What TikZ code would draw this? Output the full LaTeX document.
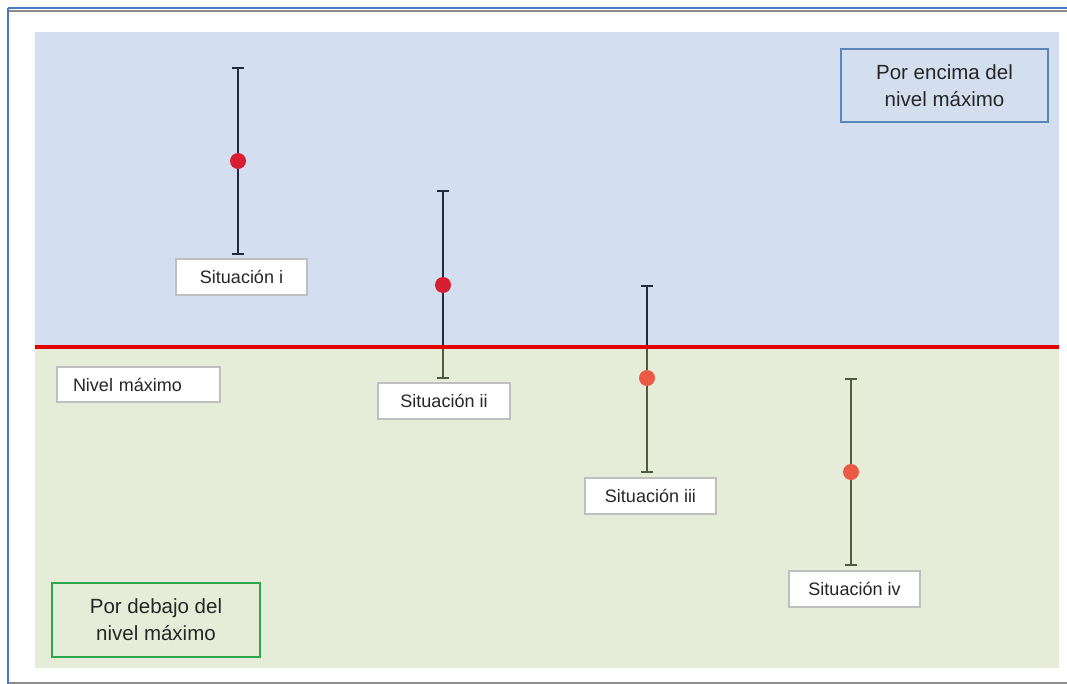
\documentclass[tikz,border=0pt]{standalone}
\usepackage{fontspec}
\setmainfont{Liberation Sans}
\usetikzlibrary{positioning}
\definecolor{skyfill}{HTML}{D3DEEF}
\definecolor{leaffill}{HTML}{E5EDD8}
\definecolor{barnavy}{HTML}{1F2A3E}
\definecolor{barolive}{HTML}{4F5A40}
\definecolor{dotdark}{HTML}{D71F32}
\definecolor{dotlight}{HTML}{EB5A44}
\definecolor{txtgrey}{HTML}{262626}
\definecolor{topline}{HTML}{4A78C8}
\definecolor{skyedge}{HTML}{5A86B8}
\definecolor{leafedge}{HTML}{2EA84E}

\begin{document}
\begin{tikzpicture}[
  x=1pt,y=-1pt,
  font=\fontsize{18}{21}\selectfont,
  tag/.style={draw=black!25,line width=1.2pt,fill=white,text=txtgrey,inner sep=0pt,minimum height=36pt},
  zone/.style={line width=2pt,text=txtgrey,align=center,inner sep=0pt,font=\fontsize{20.5}{27}\selectfont},
  errbar/.style={line width=2.2pt}
]
\useasboundingbox (0,0) rectangle (1067,684);

% ---------------- frame and the two bands
\draw[black!45,line width=1.5pt] (8,11) -- (1067,11);
\draw[black!45,line width=2pt] (8,683) -- (1067,683);
\draw[topline,line width=2pt] (8,8) -- (1067,8);
\draw[topline,line width=2pt] (8,8) -- (8,684);
\fill[skyfill] (35,32) rectangle (1059,347);
\fill[leaffill] (35,347) rectangle (1059,668);

% ---------------- error bars: x / top / bottom / dot / dot colour
\foreach \x/\t/\b/\m/\c in {238/68/254/161/dotdark,443/191/378/285/dotdark,647/286/472/378/dotlight,851/379/565/472/dotlight}{
  \foreach \clipa/\clipb/\col in {0/347/barnavy,347/684/barolive}{
    \begin{scope}
      \clip (0,\clipa) rectangle (1067,\clipb);
      \draw[errbar,\col] (\x,\t) -- (\x,\b) (\x-6,\t) -- (\x+6,\t) (\x-6,\b) -- (\x+6,\b);
    \end{scope}
  }
  \fill[\c] (\x,\m) circle (8);
}

% ---------------- maximum level
\draw[red!90!black,line width=4pt] (35,347) -- (1059,347);

% ---------------- labels
\node[tag,minimum width=131pt] (sit1) at (241.5,277) {Situación i};
\node[tag,minimum width=132pt] (sit2) at (444,401) {Situación ii};
\node[tag,minimum width=131pt] (sit3) at (650.5,496) {Situación iii};
\node[tag,minimum width=131pt] (sit4) at (854.5,589) {Situación iv};
\node[tag,text width=131pt,inner xsep=16pt,align=left,minimum height=35pt] (nivel) at (138.5,384.5) {Nivel máximo};

\node[zone,draw=skyedge,minimum width=207pt,minimum height=73pt] (arriba) at (944.5,86) {Por encima del\\nivel máximo};
\node[zone,draw=leafedge,minimum width=208pt,minimum height=74pt] (abajo) at (156,619.5) {Por debajo del\\nivel máximo};
\end{tikzpicture}
\end{document}
